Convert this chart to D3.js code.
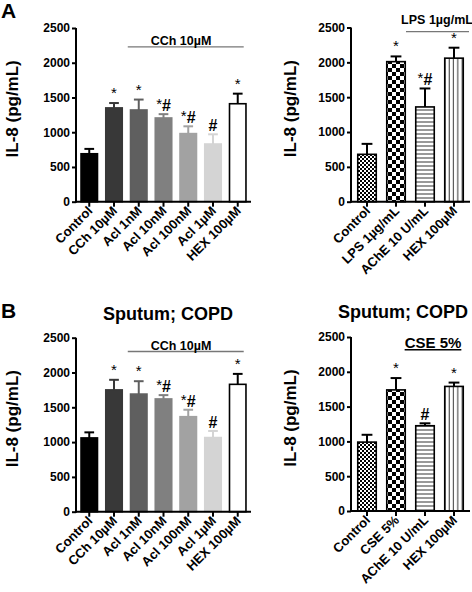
<!DOCTYPE html>
<html><head><meta charset="utf-8">
<script src="https://cdn.jsdelivr.net/npm/d3@7"></script>
<style>
html,body{margin:0;padding:0;background:#fff;}
text{font-family:"Liberation Sans",Arial,Helvetica,sans-serif;}
</style></head>
<body><svg id="c" width="472" height="592"></svg>
<script>
// ---------- data ----------
const yTicks = [0, 500, 1000, 1500, 2000, 2500];

const catsLeft = ["Control", "CCh 10\u00b5M", "Acl 1nM", "Acl 10nM", "Acl 100nM", "Acl 1\u00b5M", "HEX 100\u00b5M"];
const valuesA1 = [690, 1350, 1320, 1205, 980, 830, 1410];
const errorsA1 = [70, 70, 150, 55, 105, 140, 145];
const signifA1 = ["", "*", "*", "*#", "*#", "#", "*"];

const catsA2 = ["Control", "LPS 1\u00b5g/mL", "AChE 10 U/mL", "HEX 100\u00b5M"];
const valuesA2 = [680, 2010, 1360, 2060];
const errorsA2 = [150, 75, 265, 150];
const signifA2 = ["", "*", "*#", "*"];

const valuesB1 = [1060, 1750, 1690, 1620, 1365, 1065, 1830];
const errorsB1 = [80, 145, 185, 55, 100, 95, 150];
const signifB1 = ["", "*", "*", "*#", "*#", "#", "*"];

const catsB2 = ["Control", "CSE 5%", "AChE 10 U/mL", "HEX 100\u00b5M"];
const valuesB2 = [990, 1740, 1225, 1790];
const errorsB2 = [105, 170, 35, 55];
const signifB2 = ["", "*", "#", "*"];

// ---------- styles ----------
const leftFills = ["#000000", "#383838", "#5f5f5f", "#808080", "#a2a2a2", "#d4d4d4", "#ffffff"];
const leftStrokes = ["#000000", "#383838", "#5f5f5f", "#808080", "#a2a2a2", "#d4d4d4", "#000000"];
const rightFills = ["url(#pFine)", "url(#pCheck)", "url(#pHoriz)", "url(#pVert)"];

const svg = d3.select("#c");
const defs = svg.append("defs");
let p = defs.append("pattern").attr("id", "pFine").attr("patternUnits", "userSpaceOnUse").attr("width", 4).attr("height", 4);
p.append("rect").attr("width", 4).attr("height", 4).attr("fill", "#fff");
p.append("rect").attr("width", 2).attr("height", 2).attr("fill", "#000");
p.append("rect").attr("x", 2).attr("y", 2).attr("width", 2).attr("height", 2).attr("fill", "#000");
p = defs.append("pattern").attr("id", "pCheck").attr("patternUnits", "userSpaceOnUse").attr("width", 8).attr("height", 8);
p.append("rect").attr("width", 8).attr("height", 8).attr("fill", "#fff");
p.append("rect").attr("width", 4).attr("height", 4).attr("fill", "#000");
p.append("rect").attr("x", 4).attr("y", 4).attr("width", 4).attr("height", 4).attr("fill", "#000");
p = defs.append("pattern").attr("id", "pHoriz").attr("patternUnits", "userSpaceOnUse").attr("width", 4).attr("height", 4);
p.append("rect").attr("width", 4).attr("height", 4).attr("fill", "#fff");
p.append("rect").attr("y", 1.5).attr("width", 4).attr("height", 1).attr("fill", "#333");
p = defs.append("pattern").attr("id", "pVert").attr("patternUnits", "userSpaceOnUse").attr("width", 4.3).attr("height", 4);
p.append("rect").attr("width", 4.3).attr("height", 4).attr("fill", "#fff");
p.append("rect").attr("x", 1.5).attr("width", 1).attr("height", 4).attr("fill", "#333");

function panel(cfg) {
  const g = svg.append("g");
  const x = d3.scaleBand().domain(cfg.cats).range(cfg.xr).paddingInner(cfg.pi).paddingOuter(cfg.po);
  const y = d3.scaleLinear().domain([0, 2500]).range(cfg.yr);
  const bw = x.bandwidth();

  cfg.cats.forEach((c, i) => {
    const v = cfg.values[i], e = cfg.errors[i];
    const cx = x(c) + bw / 2;
    const col = cfg.strokes[i];
    g.append("line").attr("x1", cx).attr("x2", cx).attr("y1", y(v)).attr("y2", y(v + e))
      .attr("stroke", col).attr("stroke-width", 2);
    g.append("line").attr("x1", cx - bw * 0.27).attr("x2", cx + bw * 0.27).attr("y1", y(v + e)).attr("y2", y(v + e))
      .attr("stroke", col).attr("stroke-width", 2);
    g.append("rect").attr("x", x(c) + 0.75).attr("width", bw - 1.5)
      .attr("y", y(v)).attr("height", y(0) - y(v))
      .attr("fill", cfg.fills[i]).attr("stroke", col).attr("stroke-width", 1.6);
    const s = cfg.signif[i];
    if (s) {
      const t = g.append("text").attr("x", cx).attr("text-anchor", "middle").attr("fill", "#000");
      if (s === "*") {
        t.attr("y", y(v + e) - 5).attr("font-size", 15).text("*");
      } else if (s === "#") {
        t.attr("y", y(v + e) - 3).attr("font-size", 16).attr("font-weight", "bold").text("#");
      } else {
        t.attr("y", y(v + e) - 3);
        t.append("tspan").attr("font-size", 15).attr("dy", -2).text("*");
        t.append("tspan").attr("font-size", 16).attr("font-weight", "bold").attr("dy", 2).text("#");
      }
    }
  });

  const ya = g.append("g").attr("transform", `translate(${cfg.xr[0]},0)`)
    .call(d3.axisLeft(y).tickValues(yTicks).tickFormat(d3.format("d")).tickSize(4).tickPadding(2).tickSizeOuter(0));
  ya.select(".domain").attr("stroke-width", 2).attr("d", `M0,${cfg.yr[0] + 1}V${cfg.yr[1]}`);
  ya.selectAll(".tick line").attr("stroke-width", 2);
  ya.selectAll(".tick text").attr("font-size", 12).attr("font-weight", "bold").attr("fill", "#000");

  const xa = g.append("g").attr("transform", `translate(0,${cfg.yr[0]})`)
    .call(d3.axisBottom(x).tickSize(5).tickSizeOuter(0).tickFormat(""));
  xa.select(".domain").attr("stroke-width", 2).attr("d", `M${cfg.xr[0] - 1},0H${cfg.xr[1]}`);
  xa.selectAll(".tick line").attr("stroke-width", 2);
  cfg.cats.forEach(c => {
    const cx = x(c) + bw / 2;
    g.append("text").attr("text-anchor", "end").attr("font-size", 13).attr("font-weight", "bold")
      .attr("transform", `translate(${cx + 4},${cfg.yr[0] + 10}) rotate(-45)`).text(c);
  });

  const ym = (cfg.yr[0] + cfg.yr[1]) / 2 - 6;
  g.append("text").attr("text-anchor", "middle").attr("font-size", 17).attr("font-weight", "bold")
    .attr("transform", `translate(${cfg.ylx},${ym}) rotate(-90)`).text("IL-8 (pg/mL)");

  if (cfg.bracket) {
    const b = cfg.bracket;
    const x0 = x(cfg.cats[b.from]) - b.ext0, x1 = x(cfg.cats[b.to]) + bw + b.ext1;
    if (b.line) {
      g.append("line").attr("x1", x0).attr("x2", x1).attr("y1", b.ly).attr("y2", b.ly)
        .attr("stroke", "#777").attr("stroke-width", 1.3);
    }
    const t = g.append("text").attr("x", b.tx).attr("y", b.ty).attr("text-anchor", "middle")
      .attr("font-size", b.fs).attr("font-weight", "bold").text(b.label);
    if (b.underline) t.attr("text-decoration", "underline");
  }
  if (cfg.title) {
    g.append("text").attr("x", cfg.title.x).attr("y", cfg.title.y).attr("text-anchor", "middle")
      .attr("font-size", 18).attr("font-weight", "bold").text(cfg.title.text);
  }
  return g;
}

panel({cats: catsLeft, values: valuesA1, errors: errorsA1, signif: signifA1,
  fills: leftFills, strokes: leftStrokes, xr: [76, 251], pi: 0.274, po: 0.173, yr: [201.7, 28], ylx: 18,
  bracket: {from: 2, to: 6, ext0: 2, ext1: -3, line: true, ly: 46.8, tx: 181, ty: 45, fs: 12.5, label: "CCh 10\u00b5M"}});

panel({cats: catsA2, values: valuesA2, errors: errorsA2, signif: signifA2,
  fills: rightFills, strokes: ["#000", "#000", "#000", "#000"], xr: [351, 470], pi: 0.31, po: 0.207, yr: [201.7, 27.5], ylx: 296,
  bracket: {from: 1, to: 3, ext0: -20, ext1: 5, line: true, ly: 31.7, tx: 437, ty: 24, fs: 12.5, label: "LPS 1\u00b5g/mL"}});

panel({cats: catsLeft, values: valuesB1, errors: errorsB1, signif: signifB1,
  fills: leftFills, strokes: leftStrokes, xr: [76, 251], pi: 0.274, po: 0.173, yr: [511.7, 337.7], ylx: 18,
  bracket: {from: 2, to: 6, ext0: 2, ext1: -3, line: true, ly: 351.5, tx: 181, ty: 349.5, fs: 12.5, label: "CCh 10\u00b5M"},
  title: {x: 168, y: 320, text: "Sputum; COPD"}});

panel({cats: catsB2, values: valuesB2, errors: errorsB2, signif: signifB2,
  fills: rightFills, strokes: ["#000", "#000", "#000", "#000"], xr: [351, 470], pi: 0.31, po: 0.207, yr: [511, 337], ylx: 296,
  bracket: {from: 1, to: 3, ext0: 0, ext1: 0, line: false, tx: 433, ty: 348, fs: 15, label: "CSE 5%", underline: true},
  title: {x: 403, y: 318, text: "Sputum; COPD"}});

svg.append("text").attr("x", 1).attr("y", 18).attr("font-size", 21).attr("font-weight", "bold").text("A");
svg.append("text").attr("x", 1).attr("y", 318).attr("font-size", 21).attr("font-weight", "bold").text("B");
</script></body></html>
